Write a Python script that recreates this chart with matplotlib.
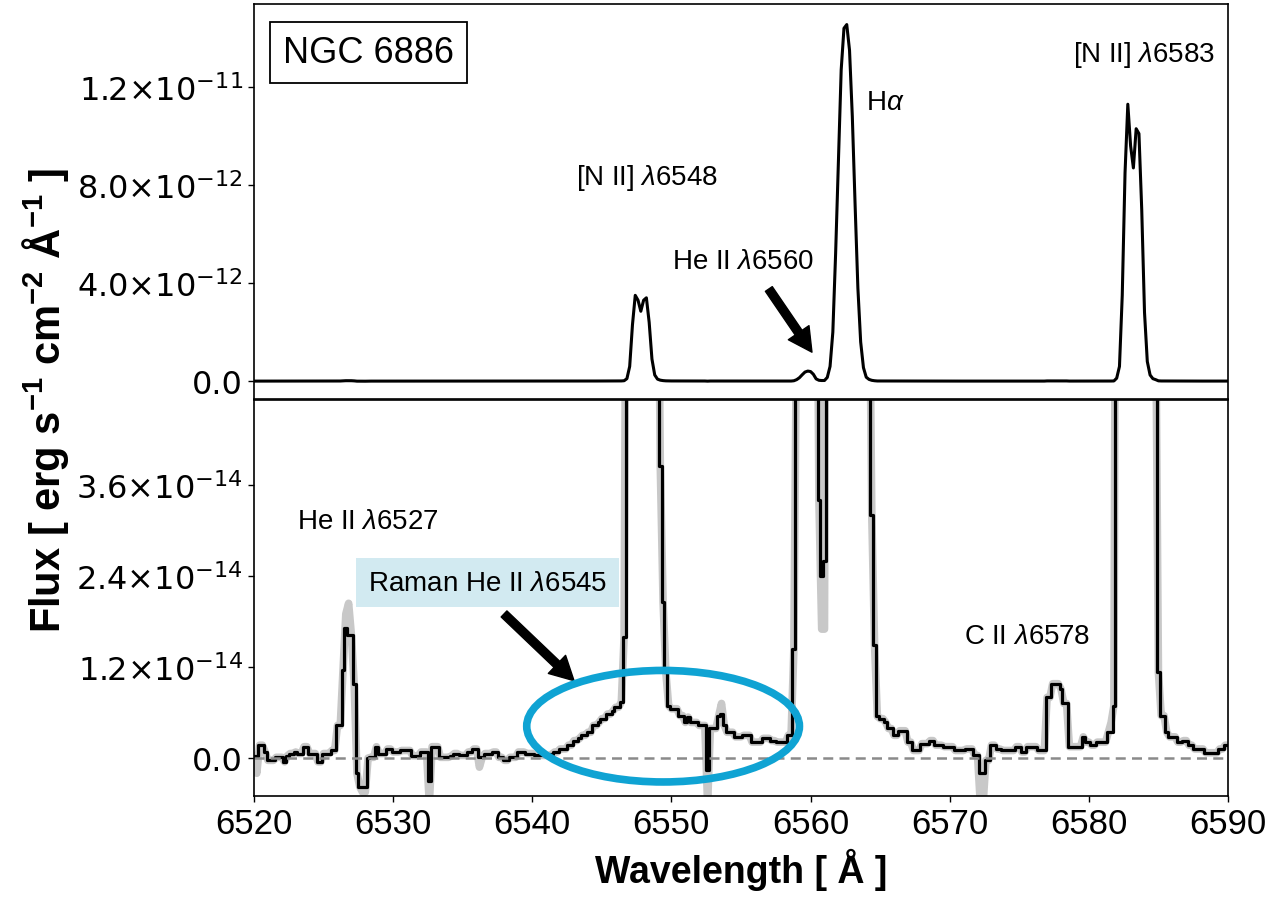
import numpy as np
import matplotlib
matplotlib.use('Agg')
import matplotlib.pyplot as plt
from matplotlib.patches import Ellipse, FancyArrowPatch
from matplotlib.ticker import FuncFormatter

plt.rcParams['mathtext.rm'] = 'Liberation Sans'
plt.rcParams['mathtext.it'] = 'Liberation Sans:italic'
plt.rcParams['mathtext.bf'] = 'Liberation Sans:bold'

# Wavelength grid of the spectrum (Angstrom)
wave_start, wave_step = 6520.0, 0.2

# Flux, in units of 1e-14 erg/s/cm2/A (one row = 2 A)
flux = [
    0.03, 0.03, 0.17, 0.17, 0.08, -0.03, -0.03, -0.03, 0.01, 0.01,      # 6520
    0.01, -0.05, 0.03, 0.06, 0.06, 0.08, 0.06, 0.06, 0.15, 0.15,        # 6522
    0.06, 0.06, 0.06, -0.05, -0.05, 0.06, 0.06, 0.06, 0.10, 0.10,       # 6524
    0.43, 0.43, 1.16, 1.71, 1.62, 1.62, 0.98, -0.2, -0.38, -0.38,       # 6526
    -0.38, 0.0, 0.01, 0.01, 0.15, 0.06, 0.06, 0.06, 0.12, 0.12,         # 6528
    0.08, 0.08, 0.08, 0.10, 0.10, 0.10, 0.10, 0.03, 0.03, 0.03,         # 6530
    0.08, 0.08, 0.08, -0.3, 0.15, 0.15, 0.15, 0.01, 0.01, 0.01,         # 6532
    0.01, 0.03, 0.06, 0.06, 0.035, 0.035, 0.035, 0.08, 0.08, 0.12,      # 6534
    0.12, 0.01, 0.01, 0.06, 0.06, 0.06, 0.08, 0.08, 0.01, 0.01,         # 6536
    -0.03, -0.03, 0.01, 0.01, 0.01, 0.08, 0.08, 0.08, 0.06, 0.06,       # 6538
    0.06, 0.035, 0.035, 0.035, 0.035, 0.035, 0.035, 0.05, 0.08, 0.08,   # 6540
    0.12, 0.12, 0.12, 0.17, 0.17, 0.23, 0.23, 0.26, 0.30, 0.30,         # 6542
    0.34, 0.34, 0.43, 0.43, 0.47, 0.52, 0.52, 0.58, 0.58, 0.62,         # 6544
    0.67, 0.67, 0.74, 1.6, 10, 60, 230, 350, 330, 285,                  # 6546
    330, 340, 240, 90, 25, 8, 3.85, 2.06, 1.13, 0.69,                   # 6548
    0.65, 0.65, 0.65, 0.56, 0.56, 0.47, 0.54, 0.47, 0.47, 0.47,         # 6550
    0.43, 0.43, 0.43, -0.16, 0.39, 0.39, 0.39, 0.56, 0.58, 0.43,        # 6552
    0.34, 0.34, 0.34, 0.28, 0.28, 0.28, 0.30, 0.30, 0.30, 0.21,         # 6554
    0.21, 0.21, 0.21, 0.26, 0.26, 0.26, 0.23, 0.23, 0.21, 0.21,         # 6556
    0.21, 0.21, 0.30, 0.30, 1.44, 6, 14, 26, 37, 41,                    # 6558
    39, 28, 9, 3.4, 2.4, 2.6, 15, 60, 200, 520,                         # 6560
    900, 1270, 1440, 1455, 1350, 1080, 720, 380, 160, 55,               # 6562
    16, 7, 3.2, 1.49, 0.55, 0.52, 0.52, 0.47, 0.39, 0.39,               # 6564
    0.30, 0.30, 0.36, 0.36, 0.36, 0.21, 0.21, 0.10, 0.10, 0.10,         # 6566
    0.19, 0.19, 0.19, 0.23, 0.23, 0.17, 0.17, 0.17, 0.15, 0.15,         # 6568
    0.15, 0.15, 0.10, 0.10, 0.10, 0.10, 0.12, 0.12, 0.12, 0.035,        # 6570
    0.035, -0.2, -0.2, -0.03, -0.03, 0.17, 0.17, 0.12, 0.12, 0.10,      # 6572
    0.10, 0.10, 0.10, 0.10, 0.15, 0.15, 0.08, 0.08, 0.15, 0.15,         # 6574
    0.15, 0.15, 0.10, 0.10, 0.10, 0.80, 0.80, 0.98, 0.98, 0.98,         # 6576
    0.91, 0.72, 0.72, 0.15, 0.15, 0.15, 0.15, 0.15, 0.28, 0.21,         # 6578
    0.21, 0.17, 0.17, 0.21, 0.21, 0.21, 0.21, 0.34, 0.34, 0.69,         # 6580
    12, 60, 350, 850, 1130, 960, 870, 1030, 1010, 700,                  # 6582
    280, 80, 25, 10, 6, 1.13, 0.56, 0.56, 0.34, 0.28,                   # 6584
    0.28, 0.28, 0.21, 0.21, 0.23, 0.23, 0.17, 0.17, 0.12, 0.12,         # 6586
    0.12, 0.12, 0.07, 0.07, 0.07, 0.07, 0.07, 0.12, 0.12, 0.17,         # 6588
    0.17,                                                               # 6590
]

# Where the grey (unsmoothed) spectrum differs from the black one, 1e-14 units
grey_diff = {6520.2: -0.2, 6526.6: 1.9, 6526.8: 2.04, 6527.8: -0.45, 6528.0: -0.45,
             6532.6: -0.6, 6536.2: -0.12, 6552.6: -0.6, 6553.6: 0.72,
             6560.8: 1.7, 6561.0: 1.7, 6572.2: -0.6, 6572.4: -0.6, 6581.6: 0.47}

top_ticks = [0.0, 4e-12, 8e-12, 1.2e-11]
bot_ticks = [0.0, 1.2e-14, 2.4e-14, 3.6e-14]
x_ticks = [6520, 6530, 6540, 6550, 6560, 6570, 6580, 6590]

# label, wavelength, flux
top_labels = [(r'[N II] $\lambda$6548', 6543.14, 8.33e-12),
              (r'He II $\lambda$6560', 6550.04, 4.90e-12),
              (r'H$\alpha$', 6563.98, 1.14e-11),
              (r'[N II] $\lambda$6583', 6578.86, 1.335e-11)]
bot_labels = [(r'He II $\lambda$6527', 6523.09, 3.13e-14),
              (r'C II $\lambda$6578', 6571.03, 1.61e-14)]

wave = np.round(wave_start + wave_step * np.arange(len(flux)), 1)
flux = np.array(flux) * 1e-14
grey = flux.copy()
for w, v in grey_diff.items():
    grey[np.argmin(np.abs(wave - w))] = v * 1e-14


def sci_fmt(v, pos):
    if v == 0:
        return '0.0'
    e = int(np.floor(np.log10(abs(v)) + 1e-9))
    return '%.1f\u00d710$^{%d}$' % (v / 10**e, e)


fig = plt.figure(figsize=(12.72, 9.03), dpi=100)
ax1 = fig.add_axes([254/1272, 1-400/903, 974/1272, 395/903])
ax2 = fig.add_axes([254/1272, 1-797/903, 974/1272, 396/903])

# Top panel: full spectrum
ax1.plot(wave, flux, color='k', lw=2.2)
ax1.set_xlim(6520, 6590)
ax1.set_ylim(-0.73e-12, 1.539e-11)
ax1.set_yticks(top_ticks)
ax1.tick_params(axis='x', bottom=False, labelbottom=False)

# Bottom panel: zoom on the faint features
ax2.plot(wave, grey, color='#c8c8c8', lw=5.5, solid_joinstyle='round')
ax2.plot(wave, flux, color='k', lw=2.3, drawstyle='steps-mid')
ax2.axhline(0, color='#8a8a8a', lw=1.8, ls='--', dashes=(4, 2.5))
ax2.set_xlim(6520, 6590)
ax2.set_ylim(-0.5e-14, 4.72e-14)
ax2.set_yticks(bot_ticks)
ax2.set_xticks(x_ticks)

for ax in (ax1, ax2):
    ax.yaxis.set_major_formatter(FuncFormatter(sci_fmt))
    ax.tick_params(direction='out', length=4, width=1, pad=4)
    for t in ax.get_yticklabels():
        t.set_fontfamily('DejaVu Sans')
        t.set_fontsize(23)
    for s in ax.spines.values():
        s.set_linewidth(1.2)
for t in ax2.get_xticklabels():
    t.set_fontfamily('Liberation Sans')
    t.set_fontsize(25)

# NGC label with box
ax1.text(0.03, 0.876, 'NGC 6886', transform=ax1.transAxes, fontsize=26,
         family='Liberation Sans', ha='left', va='center',
         bbox=dict(boxstyle='square,pad=0.36', fc='white', ec='k', lw=1.3))

for lab, x, y in top_labels:
    ax1.text(x, y, lab, fontsize=20, family='Liberation Sans',
             math_fontfamily='custom', ha='left', va='center')
for lab, x, y in bot_labels:
    ax2.text(x, y, lab, fontsize=20, family='Liberation Sans',
             math_fontfamily='custom', ha='left', va='center')
ax2.text(6528.2, 2.31e-14, r'Raman He II $\lambda$6545', fontsize=20,
         family='Liberation Sans', math_fontfamily='custom', ha='left', va='center',
         bbox=dict(boxstyle='square,pad=0.42', fc='#d2eaf1', ec='none'))

# arrows
arrow_style = 'simple,head_width=1.8,head_length=1.7,tail_width=0.6'
ax1.add_patch(FancyArrowPatch((6557.0, 3.76e-12), (6560.1, 1.18e-12),
                              arrowstyle=arrow_style, mutation_scale=10,
                              color='k', shrinkA=0, shrinkB=0))
ax2.add_patch(FancyArrowPatch((6537.97, 1.90e-14), (6543.0, 1.02e-14),
                              arrowstyle=arrow_style, mutation_scale=10,
                              color='k', shrinkA=0, shrinkB=0))

# blue ellipse around the Raman feature
ax2.add_patch(Ellipse((6549.4, 0.42e-14), width=19.6, height=1.47e-14,
                      fill=False, ec='#0fa3d3', lw=5.5, clip_on=False, zorder=5))

fig.text(46/1272, 1-401/903,
         r'Flux [ erg s$^{\mathbf{-1}}$ cm$^{\mathbf{-2}}$ $\mathbf{\AA}^{\mathbf{-1}}$ ]',
         rotation=90, fontsize=30, fontweight='bold', family='Liberation Sans',
         math_fontfamily='custom', ha='center', va='center')
fig.text(741/1272, 1-870/903, 'Wavelength [ \u00c5 ]', fontsize=27, fontweight='bold',
         family='Liberation Sans', ha='center', va='center')

fig.savefig('out.png', dpi=100)
